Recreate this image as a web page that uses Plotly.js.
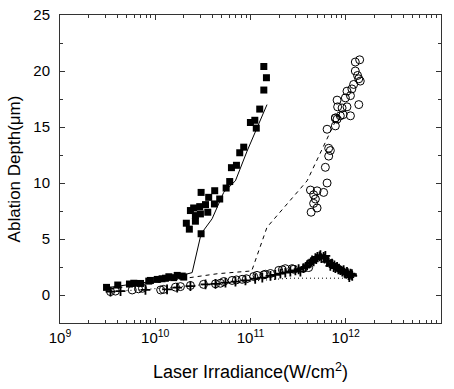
<!DOCTYPE html>
<html>
<head>
<meta charset="utf-8">
<script src="https://cdn.plot.ly/plotly-3.0.1.min.js"></script>
<style>html,body{margin:0;padding:0;background:#fff;}#chart{width:454px;height:389px;}</style>
</head>
<body>
<div id="chart"></div>
<script>
// Filled squares (series 1)
const sqX = [3.08e9,4.04e9,5.36e9,5.95e9,7.0e9,8.55e9,8.9e9,1.05e10,1.18e10,1.28e10,1.39e10,1.56e10,1.70e10,1.92e10,1.99e10,
  2.12e10,2.28e10,2.34e10,2.53e10,2.64e10,2.64e10,2.93e10,3.03e10,2.98e10,3.03e10,3.37e10,3.56e10,3.64e10,4.18e10,4.21e10,4.75e10,
  5.55e10,6.05e10,6.31e10,7.12e10,7.71e10,8.49e10,9.98e10,1.11e11,1.15e11,1.25e11,1.38e11,1.38e11,1.47e11];
const sqY = [0.68,0.89,0.98,1.05,1.03,1.24,1.3,1.39,1.45,1.5,1.63,1.55,1.75,1.69,1.6,
  6.41,5.88,7.54,7.77,6.59,7.09,7.89,9.16,7.24,5.47,8.07,7.39,8.72,8.13,9.31,8.57,
  9.55,10.13,11.37,11.58,12.7,13.2,15.4,15.6,14.9,16.6,18.3,20.4,19.4];
// Solid fit line for squares
const fitSqX = [3.08e9,1.0e10,2.0e10,2.44e10,3.03e10,3.95e10,5.23e10,6.95e10,9.21e10,1.49e11];
const fitSqY = [0.65,1.25,1.8,2.0,5.47,6.8,9.16,10.2,12.85,17.0];

// Open circles (series 2)
const ciX = [3.39e9,3.82e9,5.73e9,6.67e9,7.35e9,1.14e10,1.22e10,1.63e10,1.84e10,2.34e10,3.21e10,4.29e10,4.83e10,5.24e10,6.41e10,
  7.11e10,8.17e10,9.06e10,1.08e11,1.17e11,1.38e11,1.43e11,1.62e11,1.98e11,2.16e11,2.32e11,2.73e11,2.84e11,4.08e11,
  4.33e11,4.60e11,4.60e11,4.80e11,5.0e11,5.0e11,4.26e11,5.86e11,6.37e11,6.11e11,6.62e11,6.89e11,6.62e11,6.37e11,
  7.78e11,7.78e11,8.11e11,8.77e11,1.12e12,9.38e11,7.78e11,8.22e11,9.15e11,1.03e12,8.11e11,1.37e12,9.91e11,1.12e12,
  1.03e12,1.16e12,1.21e12,1.42e12,1.37e12,1.33e12,1.26e12,1.26e12,1.40e12];
const ciY = [0.3,0.35,0.45,0.55,0.6,0.45,0.5,0.7,0.75,0.85,0.95,1.0,1.05,1.2,1.3,
  1.35,1.4,1.45,1.65,1.75,1.8,1.85,1.92,2.2,2.25,2.35,2.35,2.3,2.45,
  7.39,8.18,8.95,8.57,7.77,9.3,9.37,9.16,10.0,11.4,12.4,12.9,13.1,14.8,
  15.1,15.8,15.7,16.0,16.0,16.1,15.8,16.8,16.7,16.8,17.4,17.0,17.6,17.8,
  18.2,18.4,18.8,19.1,19.3,19.6,20.0,20.8,21.0];
// Dashed fit line for circles
const fitCiX = [3.39e9,2.0e10,4.5e10,1.03e11,1.49e11,3.93e11,8.5e11];
const fitCiY = [0.55,1.5,1.9,2.15,6.05,10.2,16.2];

// Crosses (series 3)
const crX = [3.39e9,4.32e9,7.89e9,1.33e10,1.70e10,2.34e10,3.37e10,4.29e10,5.46e10,6.95e10,8.85e10,1.12e11,1.33e11,1.62e11,1.82e11,
  2.06e11,2.32e11,2.62e11,2.96e11,3.34e11,3.59e11,3.93e11,4.15e11,4.43e11,4.60e11,4.80e11,5.04e11,5.42e11,5.55e11,5.86e11,
  6.11e11,6.37e11,6.57e11,6.89e11,7.18e11,7.46e11,7.78e11,8.11e11,8.36e11,8.77e11,9.2e11,9.5e11,9.9e11,1.03e12,1.07e12,
  1.09e12,1.12e12,1.16e12,1.17e12,3.2e11,3.8e11,4.3e11,4.9e11,5.3e11,6.0e11,6.5e11,7.0e11,7.6e11,8.5e11,9.7e11,1.05e12,1.14e12];
const crY = [0.3,0.35,0.45,0.5,0.65,0.8,0.95,1.0,1.1,1.2,1.3,1.45,1.55,1.7,1.8,
  1.9,2.0,2.1,2.2,2.1,2.4,2.66,2.8,3.1,3.0,3.3,3.4,3.55,3.3,3.4,
  3.5,2.95,3.1,2.6,2.8,2.5,2.4,2.5,2.3,2.22,2.1,2.22,1.9,2.07,1.77,
  1.6,1.9,1.86,1.7,2.3,2.5,2.9,3.2,3.45,3.25,3.0,2.75,2.65,2.35,2.0,1.95,1.8];
// Dotted fit line for crosses
const fitCrX = [3.39e9,8e9,3e10,1e11,2.6e11,1.1e12];
const fitCrY = [0.3,0.5,0.9,1.25,1.5,1.5];

const xTickVals = [1e9,1e10,1e11,1e12,1e13];
const xTickText = ['10<sup>9</sup>','10<sup>10</sup>','10<sup>11</sup>','10<sup>12</sup>','10<sup>13</sup>'];
const yTickVals = [0,5,10,15,20,25];

// minor ticks at 2..9 times each decade
const xMinor = [];
for (let d = 9; d < 13; d++) for (let m = 2; m <= 9; m++) xMinor.push(m * Math.pow(10, d));

const traces = [
  {x: fitSqX, y: fitSqY, mode: 'lines', line: {color: '#000', width: 1}},
  {x: fitCiX, y: fitCiY, mode: 'lines', line: {color: '#000', width: 1, dash: '4px,4px'}},
  {x: fitCrX, y: fitCrY, mode: 'lines', line: {color: '#000', width: 1, dash: '1px,3px'}},
  {x: crX, y: crY, mode: 'markers', marker: {symbol: 'cross-thin-open', size: 7, color: '#000', line: {width: 1.8, color: '#000'}}},
  {x: ciX, y: ciY, mode: 'markers', marker: {symbol: 'circle-open', size: 8, color: '#000', line: {width: 1, color: '#000'}}},
  {x: sqX, y: sqY, mode: 'markers', marker: {symbol: 'square', size: 7, color: '#000'}}
];

const font = {family: 'Arial, "Liberation Sans", sans-serif', color: '#000'};
const layout = {
  width: 454, height: 389,
  margin: {l: 60, r: 13, t: 15, b: 66},
  showlegend: false,
  paper_bgcolor: '#fff', plot_bgcolor: '#fff',
  font: font,
  xaxis: {
    type: 'log', range: [9, 13], tickmode: 'array', tickvals: xTickVals, ticktext: xTickText,
    ticks: 'inside', ticklen: 5, tickcolor: '#333', showgrid: false, zeroline: false,
    showline: true, linecolor: '#333', linewidth: 1, mirror: 'ticks', ticklabelstandoff: 1,
    minor: {tickmode: 'array', tickvals: xMinor, ticks: 'inside', ticklen: 3, tickcolor: '#333', showgrid: false},
    tickfont: {family: font.family, size: 15, color: '#000'},
    title: {text: 'Laser Irradiance(W/cm<sup>2</sup>)', font: {family: font.family, size: 18, color: '#000'}, standoff: 20}
  },
  yaxis: {
    range: [-2.5, 25], tickvals: yTickVals,
    ticks: 'inside', ticklen: 5, tickcolor: '#333', showgrid: false, zeroline: false,
    showline: true, linecolor: '#333', linewidth: 1, mirror: 'ticks', ticklabelstandoff: 6,
    minor: {ticks: 'inside', ticklen: 3, dtick: 2.5, tickcolor: '#333', showgrid: false},
    tickfont: {family: font.family, size: 15, color: '#000'},
    title: {text: 'Ablation Depth(\u03bcm)', font: {family: font.family, size: 17, color: '#000'}, standoff: 8}
  }
};
Plotly.newPlot('chart', traces, layout, {displayModeBar: false, staticPlot: true});
</script>
</body>
</html>
